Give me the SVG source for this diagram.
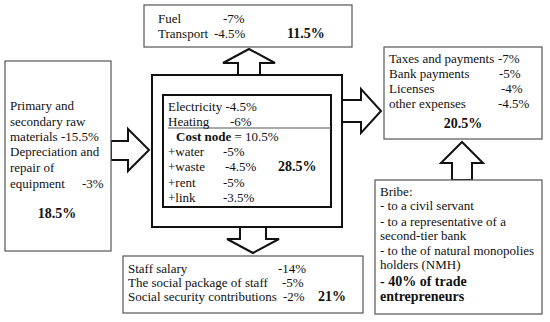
<svg xmlns="http://www.w3.org/2000/svg" width="550" height="322" viewBox="0 0 550 322" font-family="Liberation Serif, Times New Roman, serif" font-size="13">
<style>
text{font-family:Liberation Serif, Times New Roman, serif;font-size:13px;fill:#111}
.b{font-weight:bold;font-size:14px}
.cb{font-weight:bold}
.box{fill:#fff;stroke:#555;stroke-width:1.2}
.thick{fill:#fff;stroke:#111;stroke-width:2}
.arr{fill:#fff;stroke:#111;stroke-width:2;stroke-linejoin:miter}
</style>
<rect width="550" height="322" fill="#fff"/>
<g id="connectors">
<polygon class="arr" points="238,75 238,63 223,63 249,49 275,63 260,63 260,75"/>
<polygon class="arr" points="240,227 240,239 227,239 253,253 279,239 266,239 266,227"/>
<polygon class="arr" points="111,141 128,141 128,129 149,150 128,171 128,160 111,160"/>
<polygon class="arr" points="342,100 361,100 361,89 381,111 361,133 361,122 342,122"/>
<polygon class="arr" points="452,180 452,163 441,163 462,142 483,163 472,163 472,180"/>
</g>
<g id="fuel">
<rect class="box" x="144" y="5" width="208" height="42"/>
<text x="158" y="23">Fuel</text><text x="223" y="23">-7%</text>
<text x="158" y="38">Transport</text><text x="214" y="38">-4.5%</text>
<text class="b" x="287" y="38">11.5%</text>
</g>
<g id="center">
<rect class="thick" x="152" y="75" width="190" height="152"/>
<rect class="thick" x="163" y="95" width="168" height="112"/>
<line x1="168" y1="128" x2="331" y2="128" stroke="#555" stroke-width="1"/>
<text x="168" y="110.5">Electricity -4.5%</text>
<text x="168" y="125.5">Heating</text><text x="230" y="125.5">-6%</text>
<text x="176" y="141"><tspan class="cb">Cost node</tspan> = 10.5%</text>
<text x="168" y="156">+water</text><text x="223" y="156">-5%</text>
<text x="168" y="171">+waste</text><text x="225" y="171">-4.5%</text>
<text class="b" x="278" y="171">28.5%</text>
<text x="168" y="187">+rent</text><text x="223" y="187">-5%</text>
<text x="168" y="202">+link</text><text x="223" y="202">-3.5%</text>
</g>
<g id="materials">
<rect class="box" x="5" y="61" width="106" height="190"/>
<text x="10" y="110">Primary and</text>
<text x="10" y="126">secondary raw</text>
<text x="10" y="141">materials -15.5%</text>
<text x="10" y="156">Depreciation and</text>
<text x="10" y="172">repair of</text>
<text x="10" y="188">equipment</text><text x="82" y="188">-3%</text>
<text class="b" x="57" y="218" text-anchor="middle">18.5%</text>
</g>
<g id="staff">
<rect class="box" x="123" y="256" width="240" height="57"/>
<text x="128" y="273">Staff salary</text><text x="278" y="273">-14%</text>
<text x="128" y="287">The social package of staff</text><text x="282" y="287">-5%</text>
<text x="128" y="301">Social security contributions</text><text x="283" y="301">-2%</text>
<text class="b" x="318" y="301">21%</text>
</g>
<g id="taxes">
<rect class="box" x="384" y="47" width="158" height="92"/>
<text x="389" y="63">Taxes and payments</text><text x="498" y="63">-7%</text>
<text x="389" y="78">Bank payments</text><text x="499" y="78">-5%</text>
<text x="389" y="93">Licenses</text><text x="501" y="93">-4%</text>
<text x="389" y="108">other expenses</text><text x="498" y="108">-4.5%</text>
<text class="b" x="463" y="128" text-anchor="middle">20.5%</text>
</g>
<g id="bribe">
<rect class="box" x="375" y="180" width="167" height="134"/>
<text x="380" y="196">Bribe:</text>
<text x="380" y="210">- to a civil servant</text>
<text x="380" y="226">- to a representative of a</text>
<text x="380" y="240">second-tier bank</text>
<text x="380" y="255">- to the of natural monopolies</text>
<text x="380" y="269">holders (NMH)</text>
<text class="b" x="380" y="286">- 40% of trade</text>
<text class="b" x="380" y="301">entrepreneurs</text>
</g>
</svg>
